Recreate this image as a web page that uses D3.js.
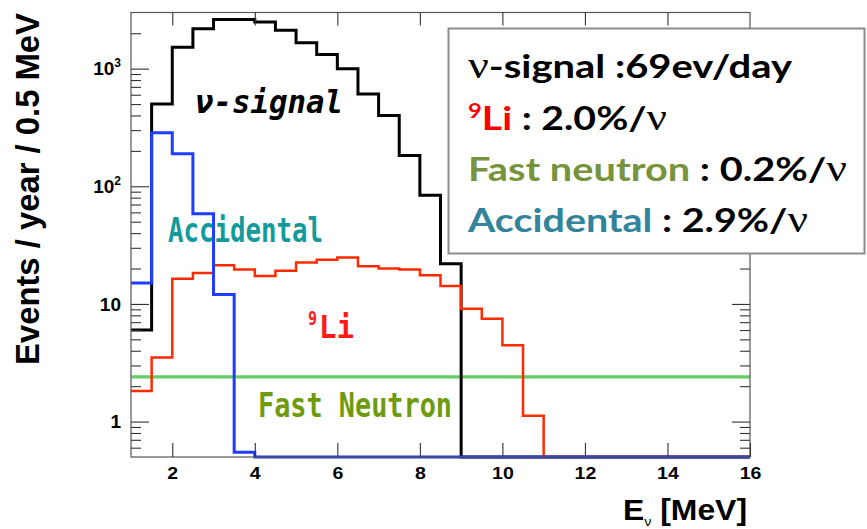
<!DOCTYPE html>
<html>
<head>
<meta charset="utf-8">
<script src="https://cdn.jsdelivr.net/npm/d3@7"></script>
<style>
  html, body { margin: 0; padding: 0; background: #fff; }
  svg { display: block; }
</style>
</head>
<body>
<svg id="chart" width="867" height="529"></svg>
<script>
// Lower edges of the 0.5 MeV energy bins (MeV)
const binLow = [1.0, 1.5, 2.0, 2.5, 3.0, 3.5, 4.0, 4.5, 5.0, 5.5,
                6.0, 6.5, 7.0, 7.5, 8.0, 8.5, 9.0, 9.5, 10.0, 10.5,
                11.0, 11.5, 12.0, 12.5, 13.0, 13.5, 14.0, 14.5, 15.0, 15.5];
const binWidth = 0.5;

// Events / year / 0.5 MeV for each bin
const signalCounts = [6, 500, 1520, 2180, 2610, 2610, 2490, 2120, 1660, 1320,
                      1000, 610, 400, 183, 84, 22, 0, 0, 0, 0,
                      0, 0, 0, 0, 0, 0, 0, 0, 0, 0];
const li9Counts = [1.82, 3.5, 16.4, 18.3, 21.3, 19.6, 17.3, 19.1, 22.5, 23.8,
                   24.8, 20.9, 20.0, 19.6, 17.5, 14.2, 9.1, 7.5, 4.46, 1.12,
                   0, 0, 0, 0, 0, 0, 0, 0, 0, 0];
const fastNeutronCounts = [2.4, 2.4, 2.4, 2.4, 2.4, 2.4, 2.4, 2.4, 2.4, 2.4,
                           2.4, 2.4, 2.4, 2.4, 2.4, 2.4, 2.4, 2.4, 2.4, 2.4,
                           2.4, 2.4, 2.4, 2.4, 2.4, 2.4, 2.4, 2.4, 2.4, 2.4];
const accidentalCounts = [15.1, 285, 189, 58.5, 12.0, 0.55, 0, 0, 0, 0,
                          0, 0, 0, 0, 0, 0, 0, 0, 0, 0,
                          0, 0, 0, 0, 0, 0, 0, 0, 0, 0];

// Axis ticks
const xTicks = [2, 4, 6, 8, 10, 12, 14, 16];
const xTopTicks = [2, 4, 6, 8, 10, 12, 14];
const yMajor = [1, 10, 100, 1000];
const yMinor = [0.6, 0.7, 0.8, 0.9, 2, 3, 4, 5, 6, 7, 8, 9,
                20, 30, 40, 50, 60, 70, 80, 90,
                200, 300, 400, 500, 600, 700, 800, 900, 2000];
const yTickBase = ["1", "10", "10", "10"];
const yTickExp = ["", "", "2", "3"];

const svg = d3.select("#chart");

const frame = { left: 131, right: 750, top: 12.5, bottom: 457 };
const x = d3.scaleLinear().domain([1, 16]).range([frame.left, frame.right]);
const y = d3.scaleLog().domain([0.5, 3000]).range([frame.bottom, frame.top]).clamp(true);

// ---------- histograms ----------
function stepPoints(vals) {
  const pts = binLow.map((b, i) => [b, vals[i]]);
  pts.push([binLow[binLow.length - 1] + binWidth, vals[vals.length - 1]]);
  return pts;
}
const stepLine = d3.line()
  .x(d => x(d[0]))
  .y(d => y(d[1]))
  .curve(d3.curveStepAfter);

const series = [
  { vals: fastNeutronCounts, color: "#62d062", width: 3.4 },
  { vals: signalCounts, color: "#000000", width: 3 },
  { vals: li9Counts, color: "#ff2a00", width: 2.5 },
  { vals: accidentalCounts, color: "#1f3cff", width: 3 }
];
svg.append("g").selectAll("path")
  .data(series)
  .join("path")
  .attr("d", s => stepLine(stepPoints(s.vals)))
  .attr("fill", "none")
  .attr("stroke", d => d.color)
  .attr("stroke-width", d => d.width)
  .attr("stroke-linejoin", "miter");

// ---------- frame and axes ----------
svg.append("rect")
  .attr("x", frame.left).attr("y", frame.top)
  .attr("width", frame.right - frame.left)
  .attr("height", frame.bottom - frame.top)
  .attr("fill", "none").attr("stroke", "#555").attr("stroke-width", 1.2);

function styleTicks(g) {
  g.select(".domain").remove();
  g.selectAll(".tick line").attr("stroke", "#333").attr("stroke-width", 1.1);
}

// bottom axis
const gx = svg.append("g")
  .attr("transform", `translate(0,${frame.bottom})`)
  .call(d3.axisBottom(x).tickValues(xTicks).tickSizeInner(-14).tickSizeOuter(0).tickPadding(10));
styleTicks(gx);
gx.selectAll(".tick text")
  .attr("font-family", "Liberation Sans, Arial, sans-serif")
  .attr("font-weight", "bold")
  .attr("font-size", 17)
  .attr("fill", "#000")
  .attr("transform", "scale(1.15,1)");

// top axis (ticks only)
const gxt = svg.append("g")
  .attr("transform", `translate(0,${frame.top})`)
  .call(d3.axisTop(x).tickValues(xTopTicks).tickSizeInner(-13).tickSizeOuter(0).tickFormat(() => ""));
styleTicks(gxt);

// left axis, majors with labels
const gy = svg.append("g")
  .attr("transform", `translate(${frame.left},0)`)
  .call(d3.axisLeft(y).tickValues(yMajor).tickSizeInner(-18).tickSizeOuter(0).tickPadding(10).tickFormat(() => ""));
styleTicks(gy);
gy.selectAll(".tick text").each(function (d, i) {
  const t = d3.select(this)
    .attr("font-family", "Liberation Sans, Arial, sans-serif")
    .attr("font-weight", "bold")
    .attr("font-size", 19)
    .attr("fill", "#000");
  t.append("tspan").text(yTickBase[i]);
  if (yTickExp[i]) {
    t.append("tspan").attr("font-size", 12).attr("dy", "-0.65em").text(yTickExp[i]);
  }
});
const gyMinor = svg.append("g")
  .attr("transform", `translate(${frame.left},0)`)
  .call(d3.axisLeft(y).tickValues(yMinor).tickSizeInner(-10).tickSizeOuter(0).tickFormat(() => ""));
styleTicks(gyMinor);

// right axis (ticks only)
const gyr = svg.append("g")
  .attr("transform", `translate(${frame.right},0)`)
  .call(d3.axisRight(y).tickValues(yMajor).tickSizeInner(-18).tickSizeOuter(0).tickFormat(() => ""));
styleTicks(gyr);
const gyrMinor = svg.append("g")
  .attr("transform", `translate(${frame.right},0)`)
  .call(d3.axisRight(y).tickValues(yMinor).tickSizeInner(-10).tickSizeOuter(0).tickFormat(() => ""));
styleTicks(gyrMinor);

// axis titles
svg.append("text")
  .attr("transform", "translate(39,189) rotate(-90)")
  .attr("text-anchor", "middle")
  .attr("font-family", "Liberation Sans, Arial, sans-serif")
  .attr("font-weight", "bold")
  .attr("font-size", 33)
  .attr("textLength", 352)
  .attr("lengthAdjust", "spacingAndGlyphs")
  .text("Events / year / 0.5 MeV");

const xt = svg.append("text")
  .attr("x", 747).attr("y", 520)
  .attr("text-anchor", "end")
  .attr("font-family", "Liberation Sans, Arial, sans-serif")
  .attr("font-weight", "bold")
  .attr("font-size", 29)
  .attr("textLength", 124)
  .attr("lengthAdjust", "spacingAndGlyphs");
xt.append("tspan").text("E");
xt.append("tspan").attr("font-size", 13).attr("font-weight", "normal").attr("dy", 6).text("ν");
xt.append("tspan").attr("dy", -6).text(" [MeV]");

// ---------- in-plot labels ----------
const monoFont = "DejaVu Sans Mono, Liberation Mono, monospace";
svg.append("text")
  .attr("x", 195).attr("y", 113)
  .attr("font-family", monoFont).attr("font-weight", "bold").attr("font-style", "italic")
  .attr("font-size", 32).attr("fill", "#000")
  .attr("textLength", 148).attr("lengthAdjust", "spacingAndGlyphs")
  .text("ν-signal");

svg.append("text")
  .attr("x", 168).attr("y", 242)
  .attr("font-family", monoFont).attr("font-weight", "bold")
  .attr("font-size", 33).attr("fill", "#139a9a")
  .attr("textLength", 155).attr("lengthAdjust", "spacingAndGlyphs")
  .text("Accidental");

svg.append("text")
  .attr("x", 308).attr("y", 325)
  .attr("font-family", monoFont).attr("font-weight", "bold")
  .attr("font-size", 20).attr("fill", "#ff1a1a")
  .attr("textLength", 9).attr("lengthAdjust", "spacingAndGlyphs")
  .text("9");
svg.append("text")
  .attr("x", 319).attr("y", 338)
  .attr("font-family", monoFont).attr("font-weight", "bold")
  .attr("font-size", 32).attr("fill", "#ff1a1a")
  .attr("textLength", 35).attr("lengthAdjust", "spacingAndGlyphs")
  .text("Li");

svg.append("text")
  .attr("x", 258).attr("y", 417)
  .attr("font-family", monoFont).attr("font-weight", "bold")
  .attr("font-size", 34).attr("fill", "#6e9a0c")
  .attr("textLength", 194).attr("lengthAdjust", "spacingAndGlyphs")
  .text("Fast Neutron");

// ---------- rate summary box ----------
svg.append("rect")
  .attr("x", 448.5).attr("y", 28.5)
  .attr("width", 416).attr("height", 225)
  .attr("fill", "#fff")
  .attr("stroke", "#8a8a8a").attr("stroke-width", 2);

const rows = [
  { y: 78, len: 324, parts: [
      { t: "ν", nu: true }, { t: "-signal :69ev/day" }] },
  { y: 129.5, len: 199, parts: [
      { t: "9", c: "#ff0000", sup: true }, { t: "Li", c: "#ff0000" },
      { t: " : 2.0%/" }, { t: "ν", nu: true }] },
  { y: 181, len: 379, parts: [
      { t: "Fast neutron", c: "#77933c" }, { t: " : 0.2%/" }, { t: "ν", nu: true }] },
  { y: 232, len: 340, parts: [
      { t: "Accidental", c: "#31849b" }, { t: " : 2.9%/" }, { t: "ν", nu: true }] }
];
rows.forEach(r => {
  const t = svg.append("text")
    .attr("x", 468).attr("y", r.y)
    .attr("font-family", "Lato, Open Sans, sans-serif")
    .attr("font-weight", "bold")
    .attr("font-size", 33)
    .attr("fill", "#000")
    .attr("textLength", r.len)
    .attr("lengthAdjust", "spacingAndGlyphs");
  let shifted = false;
  r.parts.forEach(p => {
    const s = t.append("tspan").text(p.t).attr("fill", p.c || "#000");
    if (p.nu) s.attr("font-family", "Liberation Serif, serif").attr("font-weight", "normal").attr("font-size", 38);
    if (p.sup) { s.attr("font-size", 20).attr("dy", -12); shifted = true; }
    else if (shifted) { s.attr("dy", 12); shifted = false; }
  });
});
</script>
</body>
</html>
